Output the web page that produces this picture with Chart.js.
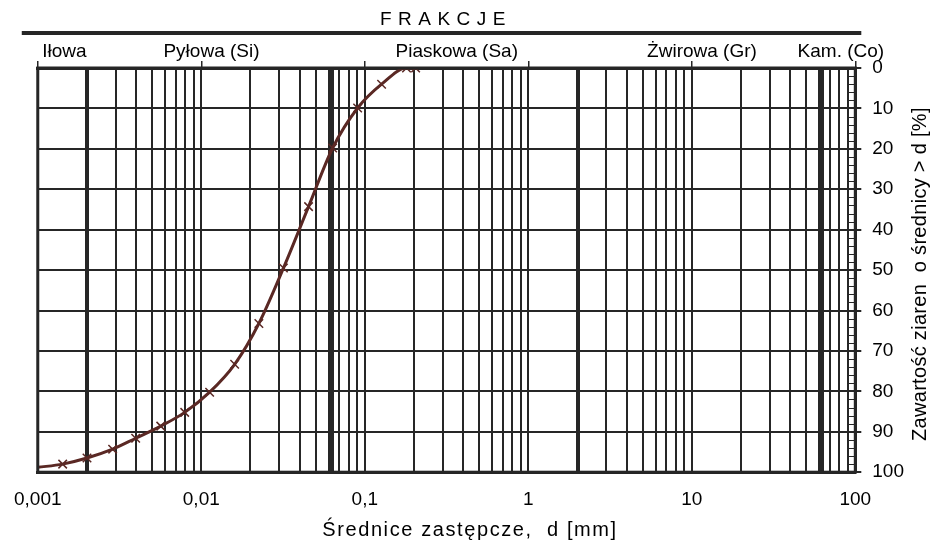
<!DOCTYPE html>
<html>
<head>
<meta charset="utf-8">
<script src="https://cdn.jsdelivr.net/npm/chart.js@4/dist/chart.umd.min.js"></script>
<style>
  body { margin: 0; background: #fff; }
  #box { width: 938px; height: 540px; }
</style>
</head>
<body>
<div id="box"><canvas id="uziarnienie"></canvas></div>
<script>
// krzywa uziarnienia
const srednice = [0.001, 0.00142, 0.002, 0.00287, 0.00397, 0.00565, 0.00792, 0.01125, 0.016, 0.0225, 0.0318, 0.0453, 0.0636, 0.0904, 0.1267, 0.180, 0.2046];
const zawartosc = [98.8, 98.0, 96.5, 94.3, 91.6, 88.6, 85.2, 80.2, 73.3, 63.2, 49.5, 34.3, 19.8, 9.9, 4.0, 0, 0];

const dekady = [0.001, 0.01, 0.1, 1, 10, 100];
const etykietyX = ['0,001', '0,01', '0,1', '1', '10', '100'];
const granice = [0.002, 0.063, 2, 63];          // granice frakcji (grube linie)
const frakcje = ['Iłowa', 'Pyłowa (Si)', 'Piaskowa (Sa)', 'Żwirowa (Gr)', 'Kam. (Co)'];
const granicePelne = [0.001, 0.002, 0.063, 2, 63, 100];
const ticksY = [0, 10, 20, 30, 40, 50, 60, 70, 80, 90, 100];

const KOLOR = '#5a2824';
const SIATKA = '#262626';
const FONT = "'Liberation Sans', Arial, sans-serif";

// wszystkie linie siatki pionowej: 1..9 w kazdej dekadzie + granice frakcji
let liniePion = [];
for (let i = 0; i < dekady.length - 1; i++) {
  for (let k = 1; k <= 9; k++) liniePion.push(+(dekady[i] * k).toPrecision(3));
}
liniePion.push(100);
granice.forEach(g => { if (!liniePion.includes(g)) liniePion.push(g); });
liniePion.sort((a, b) => a - b);

const jestDekada = v => dekady.some(d => Math.abs(d - v) / d < 1e-6);
const jestGranica = v => granice.some(d => Math.abs(d - v) / d < 1e-6);

const dodatki = {
  id: 'dodatki',
  afterDraw(chart) {
    const ctx = chart.ctx;
    const a = chart.chartArea;
    const x = chart.scales.x;
    const y = chart.scales.y;
    ctx.save();
    // male kreski na prawej krawedzi co 2%
    ctx.strokeStyle = SIATKA;
    ctx.lineWidth = 1;
    for (let v = 0; v <= 100; v += 2) {
      if (v % 10 === 0) continue;
      const py = Math.round(y.getPixelForValue(v)) + 0.5;
      ctx.beginPath();
      ctx.moveTo(a.right - 7, py);
      ctx.lineTo(a.right, py);
      ctx.stroke();
    }
    // ramka
    ctx.lineWidth = 3;
    ctx.strokeRect(a.left, a.top, a.right - a.left, a.bottom - a.top);

    // naglowek FRAKCJE
    ctx.fillStyle = '#000';
    ctx.font = '19px ' + FONT;
    ctx.textAlign = 'center';
    ctx.textBaseline = 'alphabetic';
    ctx.letterSpacing = '0.6px';
    ctx.fillText('F R A K C J E', 443, 25);
    ctx.letterSpacing = '0px';
    ctx.lineWidth = 4;
    ctx.beginPath();
    ctx.moveTo(a.left - 16, 33);
    ctx.lineTo(a.right + 6, 33);
    ctx.stroke();

    // nazwy frakcji
    for (let i = 0; i < frakcje.length; i++) {
      const srodek = Math.sqrt(granicePelne[i] * granicePelne[i + 1]);
      const px = x.getPixelForValue(srodek);
      ctx.fillText(frakcje[i], px + 2, 57);
    }

    // tytul osi X
    ctx.font = '20px ' + FONT;
    ctx.letterSpacing = '1.6px';
    ctx.fillText('Średnice zastępcze,  d [mm]', 470, 536);

    // tytul osi Y (czytany od dolu)
    ctx.letterSpacing = '0.3px';
    ctx.translate(926, (a.top + a.bottom) / 2 + 4);
    ctx.rotate(-Math.PI / 2);
    ctx.fillText('Zawartość ziaren  o średnicy > d [%]', 0, 0);
    ctx.restore();
  }
};

new Chart(document.getElementById('uziarnienie'), {
  type: 'line',
  data: {
    datasets: [{
      data: srednice.map((d, i) => ({ x: d, y: zawartosc[i] })),
      borderColor: KOLOR,
      borderWidth: 3,
      cubicInterpolationMode: 'monotone',
      pointStyle: 'crossRot',
      pointRadius: srednice.map((d, i) => i === 0 ? 0 : 6),
      pointBorderColor: KOLOR,
      pointBorderWidth: 1.5,
      pointBackgroundColor: KOLOR
    }]
  },
  options: {
    responsive: true,
    maintainAspectRatio: false,
    animation: false,
    layout: { padding: { top: 61, right: 23, left: 0, bottom: 13 } },
    plugins: {
      legend: { display: false },
      tooltip: { enabled: false }
    },
    scales: {
      x: {
        type: 'logarithmic',
        position: 'bottom',
        min: 0.001,
        max: 100,
        afterBuildTicks: s => { s.ticks = liniePion.map(v => ({ value: v })); },
        afterFit: s => { s.paddingLeft -= 2; },
        ticks: {
          autoSkip: false,
          maxRotation: 0,
          color: '#000',
          font: { family: FONT, size: 19 },
          padding: 16,
          callback: v => jestDekada(v) ? etykietyX[dekady.findIndex(d => Math.abs(d - v) / d < 1e-6)] : ''
        },
        grid: {
          color: SIATKA,
          drawTicks: false,
          lineWidth: c => (c.tick && jestGranica(c.tick.value)) ? 4 : 2
        },
        border: { display: true, color: SIATKA, width: 3 }
      },
      x2: {
        type: 'logarithmic',
        position: 'top',
        min: 0.001,
        max: 100,
        afterBuildTicks: s => { s.ticks = dekady.map(v => ({ value: v })); },
        ticks: { display: false },
        grid: { color: SIATKA, drawOnChartArea: false, tickLength: 7, lineWidth: 1.5 },
        border: { display: true, color: SIATKA, width: 3 }
      },
      y: {
        type: 'linear',
        position: 'right',
        reverse: true,
        min: 0,
        max: 100,
        afterBuildTicks: s => { s.ticks = ticksY.map(v => ({ value: v })); },
        ticks: {
          color: '#000',
          font: { family: FONT, size: 19 },
          padding: 11
        },
        grid: { color: SIATKA, tickLength: 6, lineWidth: 2 },
        border: { display: true, color: SIATKA, width: 3 }
      }
    }
  },
  plugins: [dodatki]
});
</script>
</body>
</html>
